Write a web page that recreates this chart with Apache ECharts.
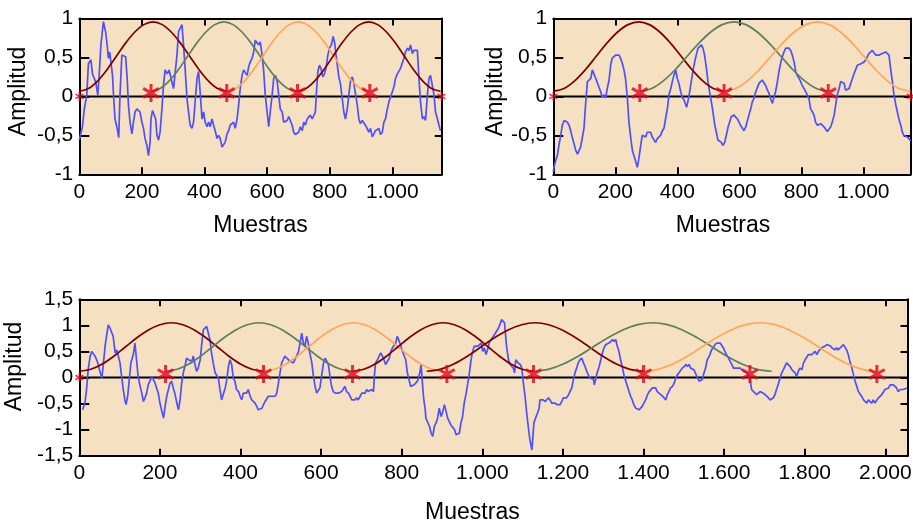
<!DOCTYPE html>
<html><head><meta charset="utf-8">
<script src="https://cdn.jsdelivr.net/npm/echarts@6/dist/echarts.min.js"></script>
<style>html,body{margin:0;padding:0;background:#fff}#c{width:913px;height:523px}</style>
</head><body><div id="c"></div>
<script>
// ---------- DATA ----------
const tlSignal = [[0,-0.56],[10,-0.39],[16,-0.16],[24,0.02],[29,0.42],[37,0.47],[42,0.29],[48,0.23],[53,0.17],[59,0.02],[63,0.23],[69,0.66],[77,0.96],[84,0.83],[89,0.66],[93,0.49],[97,0.57],[101,0.44],[106,0.27],[110,-0.03],[114,-0.29],[120,-0.39],[126,-0.53],[130,0.02],[136,0.53],[142,0.55],[148,0.51],[153,0.23],[157,-0.11],[162,-0.33],[168,-0.48],[173,-0.33],[178,-0.2],[184,-0.16],[189,-0.14],[194,-0.2],[200,-0.33],[205,-0.41],[210,-0.54],[216,-0.63],[221,-0.76],[226,-0.59],[229,-0.29],[234,-0.18],[240,-0.18],[244,-0.29],[248,-0.5],[253,-0.56],[258,-0.46],[264,-0.16],[269,0.14],[274,0.34],[281,0.29],[287,0.34],[293,0.23],[301,0.1],[306,0.1],[312,0.53],[317,0.83],[322,0.85],[328,0.92],[333,0.66],[338,0.36],[344,-0.03],[349,-0.2],[354,-0.37],[360,-0.41],[365,-0.33],[370,-0.07],[376,0.23],[381,0.32],[386,0.06],[392,-0.29],[397,-0.2],[402,-0.33],[408,-0.39],[413,-0.33],[418,-0.39],[424,-0.29],[429,-0.37],[434,-0.44],[440,-0.54],[445,-0.5],[450,-0.54],[456,-0.65],[461,-0.63],[466,-0.59],[472,-0.48],[477,-0.44],[482,-0.37],[488,-0.39],[493,-0.33],[498,-0.41],[504,-0.29],[509,-0.11],[514,0.1],[520,0.27],[525,0.34],[530,0.32],[536,0.27],[541,0.38],[546,0.44],[552,0.49],[557,0.57],[562,0.72],[568,0.74],[573,0.66],[578,0.7],[584,0.53],[589,0.32],[594,0.02],[600,-0.2],[605,-0.39],[610,-0.2],[616,0.02],[621,0.23],[626,0.27],[632,0.19],[637,0.02],[642,-0.16],[648,-0.2],[653,-0.33],[658,-0.35],[664,-0.31],[669,-0.26],[674,-0.31],[680,-0.37],[685,-0.46],[690,-0.49],[696,-0.48],[701,-0.46],[706,-0.39],[712,-0.44],[717,-0.33],[722,-0.37],[728,-0.29],[733,-0.31],[738,-0.24],[744,-0.29],[749,-0.29],[754,-0.2],[757,0.02],[762,0.32],[767,0.4],[772,0.36],[778,0.25],[783,0.29],[788,0.36],[794,0.53],[799,0.62],[805,0.66],[811,0.77],[816,0.68],[820,0.53],[825,0.38],[829,0.25],[834,0.17],[840,-0.03],[845,-0.2],[850,-0.29],[856,-0.16],[861,0.02],[866,0.19],[872,0.25],[877,0.17],[882,0.04],[888,-0.11],[893,-0.29],[898,-0.35],[904,-0.31],[909,-0.29],[914,-0.37],[920,-0.39],[925,-0.46],[930,-0.41],[936,-0.52],[941,-0.48],[946,-0.44],[952,-0.46],[957,-0.41],[962,-0.49],[968,-0.46],[973,-0.33],[978,-0.29],[984,-0.16],[989,-0.07],[994,-0.05],[1000,0.06],[1005,0.12],[1010,0.23],[1016,0.29],[1021,0.27],[1026,0.36],[1032,0.34],[1037,0.49],[1042,0.57],[1048,0.62],[1053,0.59],[1058,0.66],[1064,0.55],[1069,0.59],[1074,0.57],[1080,0.59],[1085,0.23],[1090,-0.07],[1096,-0.29],[1101,-0.26],[1106,-0.31],[1112,0.02],[1117,0.23],[1122,0.27],[1128,0.29],[1133,0.02],[1138,-0.2],[1144,-0.29],[1149,-0.37],[1154,-0.44]];

const trSignal = [[0,-0.97],[2,-0.91],[8,-0.82],[13,-0.76],[18,-0.63],[24,-0.5],[29,-0.37],[35,-0.31],[40,-0.29],[45,-0.33],[51,-0.37],[56,-0.44],[61,-0.52],[67,-0.61],[72,-0.69],[78,-0.74],[83,-0.74],[88,-0.65],[94,-0.63],[99,-0.41],[104,-0.11],[110,0.19],[115,0.21],[121,0.23],[126,0.34],[131,0.32],[137,0.23],[142,0.21],[147,0.12],[153,0.06],[158,-0.01],[164,0.02],[169,-0.02],[174,0.1],[180,0.21],[185,0.4],[190,0.49],[196,0.49],[201,0.53],[207,0.55],[212,0.53],[217,0.49],[223,0.42],[228,0.34],[233,0.23],[239,-0.03],[244,-0.33],[250,-0.54],[255,-0.69],[260,-0.76],[266,-0.84],[271,-0.91],[276,-0.8],[282,-0.63],[287,-0.5],[293,-0.5],[298,-0.52],[303,-0.46],[309,-0.44],[314,-0.46],[319,-0.52],[325,-0.56],[330,-0.59],[336,-0.54],[341,-0.54],[346,-0.5],[352,-0.44],[357,-0.41],[362,-0.29],[368,-0.16],[373,0.02],[379,0.1],[384,0.19],[389,0.27],[395,0.34],[400,0.23],[405,0.17],[411,0.06],[416,-0.01],[422,-0.05],[427,-0.03],[430,-0.14],[436,-0.03],[440,0.06],[445,0.19],[451,0.34],[456,0.44],[461,0.53],[467,0.62],[472,0.64],[478,0.66],[483,0.62],[488,0.53],[494,0.36],[499,0.19],[504,0.06],[510,-0.07],[515,-0.2],[521,-0.37],[526,-0.46],[531,-0.56],[537,-0.54],[542,-0.59],[547,-0.63],[553,-0.59],[558,-0.5],[564,-0.39],[569,-0.33],[574,-0.26],[580,-0.26],[583,-0.24],[588,-0.26],[594,-0.29],[599,-0.33],[604,-0.37],[610,-0.39],[615,-0.44],[621,-0.39],[626,-0.37],[631,-0.24],[637,-0.16],[642,-0.07],[647,-0.03],[653,0.06],[658,0.08],[664,0.17],[669,0.19],[674,0.21],[680,0.19],[685,0.14],[691,0.08],[696,0.04],[701,-0.03],[707,-0.09],[712,-0.01],[717,0.06],[723,0.19],[728,0.32],[734,0.44],[739,0.51],[744,0.57],[750,0.62],[755,0.64],[760,0.62],[766,0.59],[771,0.53],[777,0.44],[782,0.32],[787,0.27],[793,0.23],[798,0.19],[803,0.14],[809,0.1],[814,0.06],[820,0.04],[825,-0.03],[830,-0.16],[836,-0.2],[841,-0.24],[846,-0.33],[852,-0.37],[857,-0.37],[863,-0.35],[868,-0.37],[873,-0.39],[879,-0.41],[884,-0.45],[889,-0.44],[895,-0.39],[900,-0.33],[906,-0.24],[911,-0.11],[916,0.02],[922,0.1],[927,0.19],[932,0.19],[938,0.17],[943,0.08],[949,0.06],[954,0.1],[959,0.12],[965,0.23],[970,0.29],[975,0.34],[981,0.4],[986,0.4],[992,0.42],[997,0.4],[1002,0.44],[1008,0.47],[1013,0.49],[1018,0.55],[1024,0.57],[1029,0.59],[1035,0.57],[1040,0.53],[1045,0.51],[1051,0.53],[1056,0.53],[1061,0.55],[1067,0.53],[1072,0.57],[1078,0.59],[1083,0.53],[1088,0.36],[1094,0.19],[1099,0.02],[1105,-0.11],[1110,-0.2],[1115,-0.29],[1121,-0.37],[1126,-0.46],[1131,-0.5],[1137,-0.48],[1142,-0.52],[1148,-0.54],[1153,-0.57]];

const bSignal = [[8,-0.62],[14,-0.49],[18,-0.23],[22,0.15],[27,0.41],[31,0.5],[35,0.47],[39,0.41],[43,0.34],[47,0.25],[51,0.12],[56,-0.01],[60,0.28],[64,0.6],[68,0.82],[72,1.01],[76,0.95],[80,0.98],[84,0.79],[89,0.47],[93,0.53],[97,0.5],[101,0.28],[105,0.02],[109,-0.23],[113,-0.43],[116,-0.52],[120,-0.36],[124,-0.04],[128,0.28],[134,0.44],[138,0.66],[142,0.34],[146,0.02],[151,-0.17],[155,-0.3],[159,-0.46],[163,-0.39],[167,-0.3],[171,-0.14],[175,-0.11],[180,0.02],[184,0.05],[188,-0.11],[192,-0.14],[196,-0.3],[200,-0.49],[204,-0.62],[209,-0.78],[213,-0.55],[217,-0.36],[221,-0.23],[225,-0.11],[229,-0.07],[233,-0.2],[237,-0.3],[242,-0.49],[246,-0.62],[250,-0.43],[254,-0.11],[258,0.09],[262,0.21],[266,0.37],[271,0.34],[275,0.37],[279,0.31],[283,0.41],[287,0.25],[291,0.12],[295,0.18],[300,0.34],[304,0.66],[308,0.92],[312,0.95],[316,0.98],[320,0.95],[324,0.73],[328,0.47],[333,0.25],[337,0.09],[341,0.09],[345,-0.01],[349,-0.23],[353,-0.43],[357,-0.43],[362,-0.2],[366,-0.04],[370,0.21],[374,0.34],[378,0.25],[382,-0.01],[386,-0.07],[390,-0.23],[395,-0.27],[399,-0.36],[403,-0.43],[407,-0.3],[411,-0.27],[415,-0.3],[419,-0.23],[424,-0.36],[428,-0.43],[432,-0.43],[436,-0.49],[440,-0.55],[444,-0.62],[448,-0.59],[453,-0.59],[457,-0.52],[461,-0.46],[465,-0.43],[469,-0.36],[473,-0.33],[477,-0.36],[481,-0.39],[486,-0.36],[490,-0.3],[494,-0.11],[498,0.09],[502,0.28],[506,0.34],[510,0.41],[515,0.37],[519,0.34],[523,0.31],[527,0.28],[531,0.28],[535,0.34],[539,0.41],[544,0.5],[548,0.53],[552,0.85],[556,0.66],[560,0.6],[564,0.79],[568,0.66],[572,0.47],[577,0.28],[581,0.02],[585,-0.17],[589,-0.3],[593,-0.27],[597,-0.2],[601,0.02],[606,0.28],[610,0.37],[614,0.34],[618,0.25],[622,0.02],[626,-0.17],[630,-0.27],[635,-0.3],[639,-0.33],[643,-0.3],[647,-0.33],[651,-0.27],[655,-0.3],[659,-0.17],[663,-0.27],[668,-0.3],[672,-0.36],[676,-0.43],[680,-0.46],[684,-0.43],[688,-0.39],[692,-0.43],[697,-0.36],[701,-0.3],[705,-0.27],[709,-0.3],[713,-0.23],[717,-0.27],[721,-0.27],[725,-0.23],[730,-0.27],[732,0.02],[735,0.28],[740,0.34],[744,0.41],[748,0.47],[752,0.41],[756,0.34],[760,0.25],[764,0.25],[769,0.37],[773,0.5],[777,0.57],[781,0.6],[785,0.66],[789,0.79],[793,0.82],[797,0.63],[802,0.5],[806,0.47],[810,0.34],[814,0.09],[818,-0.04],[822,-0.17],[826,-0.2],[831,-0.14],[835,-0.11],[839,-0.07],[843,-0.04],[845,0.09],[848,0.25],[851,-0.07],[854,-0.36],[856,-0.49],[858,-0.59],[860,-0.78],[864,-0.81],[869,-0.94],[873,-1.07],[877,-1.13],[881,-0.94],[885,-0.87],[889,-0.78],[893,-0.59],[898,-0.75],[902,-0.65],[906,-0.52],[910,-0.65],[914,-0.78],[918,-0.75],[922,-0.91],[926,-0.94],[931,-1.0],[935,-1.1],[939,-1.13],[943,-1.07],[947,-0.87],[951,-0.75],[955,-0.49],[960,-0.3],[964,-0.11],[968,0.09],[972,0.34],[976,0.5],[980,0.6],[984,0.63],[989,0.6],[993,0.63],[997,0.66],[1001,0.5],[1005,0.57],[1009,0.44],[1013,0.53],[1017,0.66],[1022,0.73],[1026,0.76],[1030,0.82],[1034,0.79],[1038,0.92],[1042,0.98],[1048,1.11],[1052,1.08],[1055,1.05],[1058,0.79],[1060,0.6],[1065,0.34],[1069,0.25],[1073,0.28],[1077,0.18],[1080,0.09],[1083,0.34],[1086,0.31],[1089,0.28],[1094,0.25],[1098,0.18],[1102,-0.11],[1106,-0.36],[1110,-0.68],[1114,-0.94],[1118,-1.19],[1123,-1.39],[1125,-1.19],[1128,-0.87],[1132,-0.78],[1137,-0.68],[1141,-0.59],[1143,-0.43],[1147,-0.46],[1151,-0.43],[1156,-0.46],[1160,-0.43],[1164,-0.39],[1168,-0.43],[1172,-0.49],[1176,-0.52],[1180,-0.49],[1185,-0.52],[1189,-0.49],[1193,-0.52],[1197,-0.46],[1201,-0.39],[1205,-0.36],[1209,-0.39],[1214,-0.33],[1218,-0.3],[1222,-0.2],[1226,-0.04],[1230,0.09],[1234,0.18],[1238,0.28],[1242,0.34],[1247,0.37],[1251,0.28],[1255,0.21],[1259,0.12],[1263,0.05],[1267,-0.01],[1271,-0.01],[1276,-0.04],[1278,-0.14],[1281,-0.04],[1285,0.09],[1290,0.21],[1294,0.34],[1298,0.47],[1302,0.57],[1306,0.63],[1310,0.66],[1314,0.66],[1319,0.69],[1323,0.73],[1327,0.69],[1331,0.73],[1335,0.6],[1339,0.5],[1343,0.34],[1348,0.18],[1352,0.02],[1356,-0.07],[1360,-0.17],[1364,-0.27],[1368,-0.36],[1372,-0.43],[1376,-0.52],[1381,-0.59],[1385,-0.62],[1389,-0.62],[1393,-0.59],[1397,-0.55],[1401,-0.52],[1405,-0.43],[1410,-0.33],[1414,-0.27],[1418,-0.3],[1422,-0.2],[1426,-0.23],[1430,-0.2],[1434,-0.27],[1438,-0.3],[1443,-0.33],[1447,-0.36],[1451,-0.39],[1455,-0.43],[1459,-0.33],[1463,-0.27],[1467,-0.2],[1472,-0.17],[1476,-0.11],[1480,-0.01],[1484,0.05],[1488,0.09],[1492,0.09],[1496,0.18],[1501,0.21],[1505,0.25],[1509,0.21],[1513,0.25],[1517,0.18],[1521,0.21],[1525,0.15],[1529,0.12],[1534,-0.01],[1538,-0.07],[1542,-0.07],[1546,-0.04],[1550,0.09],[1554,0.18],[1558,0.34],[1563,0.41],[1565,0.44],[1569,0.53],[1573,0.57],[1577,0.63],[1582,0.66],[1586,0.63],[1590,0.66],[1594,0.63],[1598,0.57],[1602,0.5],[1606,0.44],[1611,0.37],[1615,0.31],[1619,0.25],[1623,0.18],[1627,0.15],[1631,0.18],[1635,0.15],[1640,0.18],[1644,0.15],[1648,0.12],[1652,0.09],[1656,0.09],[1660,0.05],[1664,-0.01],[1668,-0.23],[1673,-0.27],[1677,-0.3],[1681,-0.33],[1685,-0.3],[1689,-0.27],[1693,-0.27],[1697,-0.3],[1702,-0.33],[1706,-0.36],[1710,-0.39],[1714,-0.43],[1718,-0.46],[1722,-0.39],[1726,-0.33],[1730,-0.23],[1735,-0.11],[1739,-0.01],[1743,0.09],[1747,0.15],[1751,0.18],[1755,0.28],[1759,0.25],[1764,0.21],[1768,0.15],[1772,0.12],[1776,0.09],[1780,0.02],[1784,0.12],[1788,0.18],[1793,0.15],[1797,0.28],[1801,0.34],[1805,0.37],[1809,0.44],[1813,0.47],[1817,0.44],[1821,0.47],[1826,0.5],[1830,0.44],[1834,0.5],[1838,0.53],[1842,0.57],[1846,0.6],[1850,0.6],[1855,0.63],[1859,0.6],[1863,0.61],[1867,0.57],[1871,0.57],[1875,0.53],[1879,0.57],[1883,0.53],[1888,0.57],[1892,0.6],[1896,0.63],[1900,0.6],[1904,0.53],[1908,0.44],[1912,0.31],[1917,0.18],[1921,0.05],[1925,-0.07],[1929,-0.17],[1933,-0.27],[1937,-0.3],[1941,-0.36],[1946,-0.43],[1950,-0.46],[1954,-0.49],[1958,-0.43],[1962,-0.46],[1966,-0.49],[1970,-0.43],[1974,-0.49],[1979,-0.43],[1983,-0.39],[1987,-0.36],[1991,-0.33],[1995,-0.3],[1999,-0.23],[2003,-0.2],[2008,-0.2],[2012,-0.14],[2016,-0.11],[2020,-0.14],[2024,-0.17],[2028,-0.2],[2032,-0.27],[2037,-0.23],[2041,-0.2],[2045,-0.23],[2049,-0.2],[2053,-0.2]];

// window profile (normalised) and window spans [start, end]
const windowShape = [0,0.04,0.15,0.31,0.5,0.69,0.85,0.96,1,0.96,0.85,0.69,0.5,0.31,0.15,0.04,0];
const tlWindows = [[0,471],[229,695],[471,928],[695,1154]];
const tlWindowKinds = [0,1,2,0];
const trWindows = [[0,551],[279,887],[551,1153]];
const trWindowKinds = [0,1,2];
const bWindows = [[0,457],[214,678],[457,903],[678,1127],[862,1400],[1127,1718],[1400,1979]];
const bWindowKinds = [0,1,2,0,0,1,2];
const topWindowLevels = [0.066, 0.957];   // [min, peak]
const bottomWindowLevels = [0.12, 1.05];

// frame marks (asterisks)
const tlMarks = [229,471,697,928];
const tlEnds = [0,1157];
const trMarks = [279,551,887];
const trEnds = [0,1153];
const bMarks = [214,457,678,912,1127,1400,1664,1979];
const bEnds = [0];
const topMarkLevel = 0.045;
const bottomMarkLevel = 0.067;

const xLimits = [1158, 1153, 2055];
const yLimitsTop = [-1, 1];
const yLimitsBottom = [-1.5, 1.5];
const xTickStep = 200;
const yTickStep = 0.5;
const xName = 'Muestras';
const yName = 'Amplitud';

// ---------- CHART ----------
const FONT = '"Liberation Sans", Arial, Helvetica, sans-serif';
const BG = '#F5E0C1';
const WIN_COLORS = ['#7B0000', '#5E7F5E', '#FFA65C'];
const BLUE = '#4F4FFF';
const RED = '#E5001C';
const STAR = 'path://M0,-10L0,10M-8.66,-5L8.66,5M-8.66,5L8.66,-5';

function fmtX(v) {
  if (Math.abs(v % xTickStep) > 1e-6) return '';
  if (v >= 1000) return Math.floor(v / 1000) + '.' + String(v % 1000).padStart(3, '0');
  return String(v);
}
function fmtY(v) { return String(Math.round(v * 10) / 10).replace('.', ','); }

const panels = [
  { grid: {left: 79.3, top: 18.5, width: 362.5, height: 155.8}, xMax: xLimits[0], yLim: yLimitsTop,
    signal: tlSignal, windows: tlWindows, kinds: tlWindowKinds, levels: topWindowLevels,
    marks: tlMarks, ends: tlEnds, markLevel: topMarkLevel,
    yGap: 49, yPad: [0,0,0,10], xGap: 40, xPad: [0,0,0,0] },
  { grid: {left: 553.3, top: 18.5, width: 357.4, height: 155.8}, xMax: xLimits[1], yLim: yLimitsTop,
    signal: trSignal, windows: trWindows, kinds: trWindowKinds, levels: topWindowLevels,
    marks: trMarks, ends: trEnds, markLevel: topMarkLevel,
    yGap: 45, yPad: [0,0,0,10], xGap: 40, xPad: [0,18,0,0] },
  { grid: {left: 79.3, top: 299.3, width: 828.2, height: 156.4}, xMax: xLimits[2], yLim: yLimitsBottom,
    signal: bSignal, windows: bWindows, kinds: bWindowKinds, levels: bottomWindowLevels,
    marks: bMarks, ends: bEnds, markLevel: bottomMarkLevel,
    yGap: 49, yPad: [0,0,0,22], xGap: 45, xPad: [0,42,0,0] }
];

const grids = [], xAxes = [], yAxes = [], series = [];
const lineAx = {onZero: false, lineStyle: {color: '#000', width: 2}};
panels.forEach((p, gi) => {
  grids.push(Object.assign({show: true, backgroundColor: BG, borderWidth: 0, outerBoundsMode: 'none', containLabel: false}, p.grid));
  xAxes.push({
    gridIndex: gi, type: 'value', position: 'bottom', min: 0, max: p.xMax, interval: xTickStep,
    axisLine: lineAx, splitLine: {show: false},
    axisTick: {inside: true, length: 7, lineStyle: {color: '#000', width: 2}},
    axisLabel: {formatter: fmtX, color: '#000', fontSize: 21, fontFamily: FONT, margin: 7, hideOverlap: false},
    name: xName, nameLocation: 'middle', nameGap: p.xGap,
    nameTextStyle: {color: '#000', fontSize: 23, fontFamily: FONT, padding: p.xPad}
  });
  xAxes.push({
    gridIndex: gi, type: 'value', position: 'top', min: 0, max: p.xMax, interval: xTickStep,
    axisLine: lineAx, splitLine: {show: false},
    axisTick: {inside: true, length: 7, lineStyle: {color: '#000', width: 2}},
    axisLabel: {show: false}
  });
  yAxes.push({
    gridIndex: gi, type: 'value', position: 'left', min: p.yLim[0], max: p.yLim[1], interval: yTickStep,
    axisLine: lineAx, splitLine: {show: false},
    axisTick: {inside: true, length: 10, lineStyle: {color: '#000', width: 2}},
    axisLabel: {formatter: fmtY, color: '#000', fontSize: 21, fontFamily: FONT, margin: 6, hideOverlap: false},
    name: yName, nameLocation: 'middle', nameGap: p.yGap, nameRotate: 90,
    nameTextStyle: {color: '#000', fontSize: 23, fontFamily: FONT, padding: p.yPad}
  });
  yAxes.push({
    gridIndex: gi, type: 'value', position: 'right', min: p.yLim[0], max: p.yLim[1], interval: yTickStep,
    axisLine: lineAx, splitLine: {show: false},
    axisTick: {inside: true, length: 7, lineStyle: {color: '#000', width: 2}},
    axisLabel: {show: false}
  });
  const xi = gi * 2, yi = gi * 2;
  // zero line
  series.push({type: 'line', xAxisIndex: xi, yAxisIndex: yi, data: [[0, 0], [p.xMax, 0]],
    showSymbol: false, symbol: 'none', lineStyle: {color: '#000', width: 2}, z: 1, silent: true});
  // signal
  series.push({type: 'line', xAxisIndex: xi, yAxisIndex: yi, data: p.signal,
    showSymbol: false, symbol: 'none', lineStyle: {color: BLUE, width: 1.7}, z: 2, silent: true});
  // windows
  p.windows.forEach((w, k) => {
    const n = windowShape.length - 1;
    const pts = windowShape.map((f, j) => [w[0] + (w[1] - w[0]) * j / n, p.levels[0] + (p.levels[1] - p.levels[0]) * f]);
    series.push({type: 'line', xAxisIndex: xi, yAxisIndex: yi, data: pts, smooth: 0.35,
      showSymbol: false, symbol: 'none', lineStyle: {color: WIN_COLORS[p.kinds[k]], width: 1.7}, z: 3, silent: true});
  });
  // asterisks
  series.push({type: 'scatter', xAxisIndex: xi, yAxisIndex: yi, data: p.marks.map(m => [m, p.markLevel]),
    symbol: STAR, symbolSize: 18, symbolKeepAspect: true, clip: false,
    itemStyle: {color: RED, borderColor: RED, borderWidth: 3, borderCap: 'butt'}, z: 5, silent: true});
  series.push({type: 'scatter', xAxisIndex: xi, yAxisIndex: yi, data: p.ends.map(m => [m, 0]),
    symbol: STAR, symbolSize: 9, symbolKeepAspect: true, clip: false,
    itemStyle: {color: RED, borderColor: RED, borderWidth: 1.6}, z: 5, silent: true});
});

const chart = echarts.init(document.getElementById('c'), null, {renderer: 'canvas'});
chart.setOption({
  animation: false, backgroundColor: '#fff',
  grid: grids, xAxis: xAxes, yAxis: yAxes, series: series
});
</script></body></html>
